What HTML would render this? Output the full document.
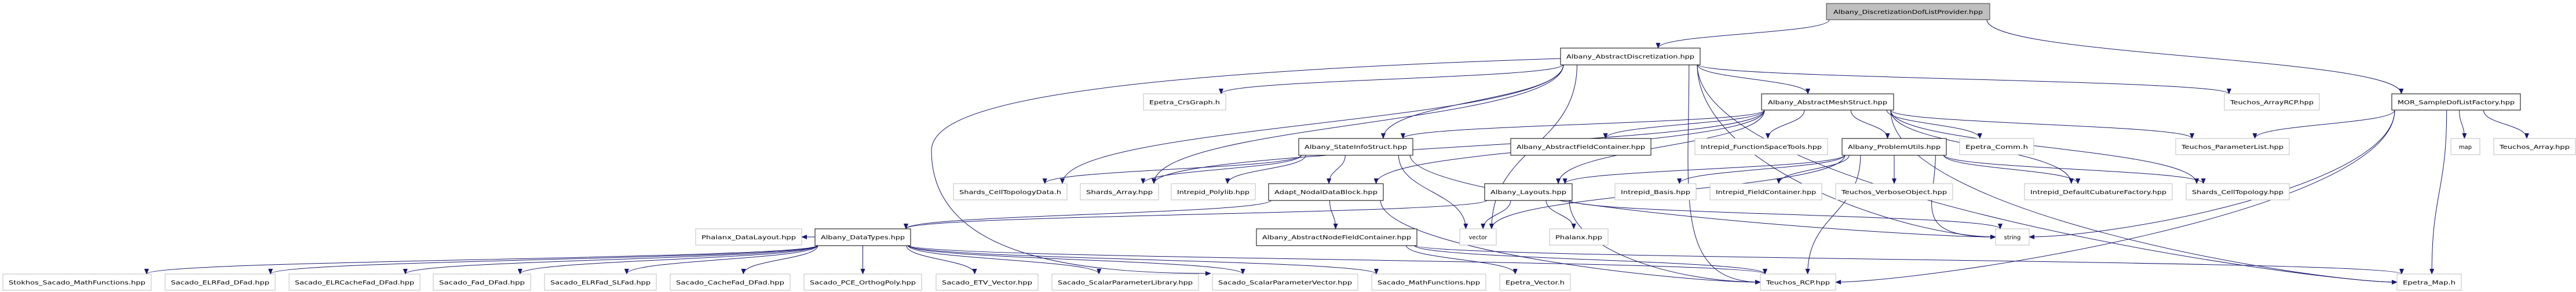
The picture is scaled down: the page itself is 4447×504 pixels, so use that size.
<!DOCTYPE html>
<html><head><meta charset="utf-8"><style>
html,body{margin:0;padding:0;background:#fff;}
svg{display:block;}
text{font-family:"DejaVu Sans","Liberation Sans",sans-serif;font-size:10px;fill:#000;}
</style></head><body>
<svg id="g" width="4447" height="504" xmlns="http://www.w3.org/2000/svg">
<defs><marker id="a" markerWidth="10" markerHeight="8" refX="9" refY="4" orient="auto" markerUnits="userSpaceOnUse"><path d="M0,0 L10,4 L0,8 z" fill="#191970"/></marker></defs>
<g id="edges" fill="none" stroke="#191970" stroke-width="1">
<path d="M2694,101 C1800,130 1608,190 1608,260 C1608,440 1850,472 2090,472" marker-end="url(#a)"/>
</g>
<g id="nodes">
<rect x="3153" y="6" width="282" height="28" fill="#bfbfbf" stroke="#404040"/><text x="3294" y="24" text-anchor="middle" textLength="258" lengthAdjust="spacingAndGlyphs">Albany_DiscretizationDofListProvider.hpp</text>
<rect x="2694" y="83" width="241" height="29" fill="#fff" stroke="#000"/><text x="2814.5" y="101" text-anchor="middle" textLength="221" lengthAdjust="spacingAndGlyphs">Albany_AbstractDiscretization.hpp</text>
<rect x="1974" y="162" width="142" height="28" fill="#fff" stroke="#bfbfbf"/><text x="2045" y="180" text-anchor="middle" textLength="122" lengthAdjust="spacingAndGlyphs">Epetra_CrsGraph.h</text>
<rect x="3041" y="162" width="228" height="28" fill="#fff" stroke="#000"/><text x="3155" y="180" text-anchor="middle" textLength="206" lengthAdjust="spacingAndGlyphs">Albany_AbstractMeshStruct.hpp</text>
<rect x="3840" y="162" width="164" height="28" fill="#fff" stroke="#bfbfbf"/><text x="3922" y="180" text-anchor="middle" textLength="144" lengthAdjust="spacingAndGlyphs">Teuchos_ArrayRCP.hpp</text>
<rect x="4129" y="162" width="222" height="28" fill="#fff" stroke="#000"/><text x="4240" y="180" text-anchor="middle" textLength="202" lengthAdjust="spacingAndGlyphs">MOR_SampleDofListFactory.hpp</text>
<rect x="2242" y="239" width="197" height="29" fill="#fff" stroke="#000"/><text x="2340.5" y="257" text-anchor="middle" textLength="177" lengthAdjust="spacingAndGlyphs">Albany_StateInfoStruct.hpp</text>
<rect x="2608" y="239" width="242" height="29" fill="#fff" stroke="#000"/><text x="2729" y="257" text-anchor="middle" textLength="222" lengthAdjust="spacingAndGlyphs">Albany_AbstractFieldContainer.hpp</text>
<rect x="2926" y="239" width="229" height="28" fill="#fff" stroke="#bfbfbf"/><text x="3040.5" y="257" text-anchor="middle" textLength="209" lengthAdjust="spacingAndGlyphs">Intrepid_FunctionSpaceTools.hpp</text>
<rect x="3180" y="239" width="180" height="29" fill="#fff" stroke="#000"/><text x="3270" y="257" text-anchor="middle" textLength="160" lengthAdjust="spacingAndGlyphs">Albany_ProblemUtils.hpp</text>
<rect x="3383" y="239" width="128" height="28" fill="#fff" stroke="#bfbfbf"/><text x="3447" y="257" text-anchor="middle" textLength="108" lengthAdjust="spacingAndGlyphs">Epetra_Comm.h</text>
<rect x="3756" y="239" width="196" height="28" fill="#fff" stroke="#bfbfbf"/><text x="3854" y="257" text-anchor="middle" textLength="176" lengthAdjust="spacingAndGlyphs">Teuchos_ParameterList.hpp</text>
<rect x="4231" y="239" width="50" height="28" fill="#fff" stroke="#bfbfbf"/><text x="4256" y="257" text-anchor="middle">map</text>
<rect x="4305" y="239" width="141" height="28" fill="#fff" stroke="#bfbfbf"/><text x="4375.5" y="257" text-anchor="middle" textLength="121" lengthAdjust="spacingAndGlyphs">Teuchos_Array.hpp</text>
<rect x="1646" y="317" width="196" height="28" fill="#fff" stroke="#bfbfbf"/><text x="1744" y="335" text-anchor="middle" textLength="176" lengthAdjust="spacingAndGlyphs">Shards_CellTopologyData.h</text>
<rect x="1865" y="317" width="135" height="28" fill="#fff" stroke="#bfbfbf"/><text x="1932.5" y="335" text-anchor="middle" textLength="115" lengthAdjust="spacingAndGlyphs">Shards_Array.hpp</text>
<rect x="2022" y="317" width="145" height="28" fill="#fff" stroke="#bfbfbf"/><text x="2094.5" y="335" text-anchor="middle" textLength="125" lengthAdjust="spacingAndGlyphs">Intrepid_Polylib.hpp</text>
<rect x="2190" y="317" width="198" height="29" fill="#fff" stroke="#000"/><text x="2289" y="335" text-anchor="middle" textLength="178" lengthAdjust="spacingAndGlyphs">Adapt_NodalDataBlock.hpp</text>
<rect x="2563" y="317" width="151" height="29" fill="#fff" stroke="#000"/><text x="2638.5" y="335" text-anchor="middle" textLength="131" lengthAdjust="spacingAndGlyphs">Albany_Layouts.hpp</text>
<rect x="2788" y="317" width="140" height="28" fill="#fff" stroke="#bfbfbf"/><text x="2858" y="335" text-anchor="middle" textLength="120" lengthAdjust="spacingAndGlyphs">Intrepid_Basis.hpp</text>
<rect x="2952" y="317" width="193" height="28" fill="#fff" stroke="#bfbfbf"/><text x="3048.5" y="335" text-anchor="middle" textLength="173" lengthAdjust="spacingAndGlyphs">Intrepid_FieldContainer.hpp</text>
<rect x="3169" y="317" width="202" height="28" fill="#fff" stroke="#bfbfbf"/><text x="3270" y="335" text-anchor="middle" textLength="182" lengthAdjust="spacingAndGlyphs">Teuchos_VerboseObject.hpp</text>
<rect x="3495" y="317" width="255" height="28" fill="#fff" stroke="#bfbfbf"/><text x="3622.5" y="335" text-anchor="middle" textLength="235" lengthAdjust="spacingAndGlyphs">Intrepid_DefaultCubatureFactory.hpp</text>
<rect x="3774" y="317" width="178" height="28" fill="#fff" stroke="#bfbfbf"/><text x="3863" y="335" text-anchor="middle" textLength="158" lengthAdjust="spacingAndGlyphs">Shards_CellTopology.hpp</text>
<rect x="1201" y="395" width="183" height="28" fill="#fff" stroke="#bfbfbf"/><text x="1292.5" y="413" text-anchor="middle" textLength="163" lengthAdjust="spacingAndGlyphs">Phalanx_DataLayout.hpp</text>
<rect x="1407" y="395" width="165" height="29" fill="#fff" stroke="#000"/><text x="1489.5" y="413" text-anchor="middle" textLength="145" lengthAdjust="spacingAndGlyphs">Albany_DataTypes.hpp</text>
<rect x="2169" y="395" width="277" height="29" fill="#fff" stroke="#000"/><text x="2307.5" y="413" text-anchor="middle" textLength="257" lengthAdjust="spacingAndGlyphs">Albany_AbstractNodeFieldContainer.hpp</text>
<rect x="2520" y="395" width="63" height="28" fill="#fff" stroke="#bfbfbf"/><text x="2551.5" y="413" text-anchor="middle">vector</text>
<rect x="2675" y="395" width="101" height="28" fill="#fff" stroke="#bfbfbf"/><text x="2725.5" y="413" text-anchor="middle" textLength="81" lengthAdjust="spacingAndGlyphs">Phalanx.hpp</text>
<rect x="3445" y="395" width="58" height="28" fill="#fff" stroke="#bfbfbf"/><text x="3474" y="413" text-anchor="middle">string</text>
<rect x="5" y="473" width="256" height="28" fill="#fff" stroke="#bfbfbf"/><text x="133" y="491" text-anchor="middle" textLength="236" lengthAdjust="spacingAndGlyphs">Stokhos_Sacado_MathFunctions.hpp</text>
<rect x="285" y="473" width="190" height="28" fill="#fff" stroke="#bfbfbf"/><text x="380" y="491" text-anchor="middle" textLength="170" lengthAdjust="spacingAndGlyphs">Sacado_ELRFad_DFad.hpp</text>
<rect x="499" y="473" width="226" height="28" fill="#fff" stroke="#bfbfbf"/><text x="612" y="491" text-anchor="middle" textLength="206" lengthAdjust="spacingAndGlyphs">Sacado_ELRCacheFad_DFad.hpp</text>
<rect x="748" y="473" width="168" height="28" fill="#fff" stroke="#bfbfbf"/><text x="832" y="491" text-anchor="middle" textLength="148" lengthAdjust="spacingAndGlyphs">Sacado_Fad_DFad.hpp</text>
<rect x="940" y="473" width="193" height="28" fill="#fff" stroke="#bfbfbf"/><text x="1036.5" y="491" text-anchor="middle" textLength="173" lengthAdjust="spacingAndGlyphs">Sacado_ELRFad_SLFad.hpp</text>
<rect x="1157" y="473" width="207" height="28" fill="#fff" stroke="#bfbfbf"/><text x="1260.5" y="491" text-anchor="middle" textLength="187" lengthAdjust="spacingAndGlyphs">Sacado_CacheFad_DFad.hpp</text>
<rect x="1388" y="473" width="203" height="28" fill="#fff" stroke="#bfbfbf"/><text x="1489.5" y="491" text-anchor="middle" textLength="183" lengthAdjust="spacingAndGlyphs">Sacado_PCE_OrthogPoly.hpp</text>
<rect x="1616" y="473" width="176" height="28" fill="#fff" stroke="#bfbfbf"/><text x="1704" y="491" text-anchor="middle" textLength="156" lengthAdjust="spacingAndGlyphs">Sacado_ETV_Vector.hpp</text>
<rect x="1816" y="473" width="253" height="28" fill="#fff" stroke="#bfbfbf"/><text x="1942.5" y="491" text-anchor="middle" textLength="233" lengthAdjust="spacingAndGlyphs">Sacado_ScalarParameterLibrary.hpp</text>
<rect x="2093" y="473" width="251" height="28" fill="#fff" stroke="#bfbfbf"/><text x="2218.5" y="491" text-anchor="middle" textLength="231" lengthAdjust="spacingAndGlyphs">Sacado_ScalarParameterVector.hpp</text>
<rect x="2368" y="473" width="197" height="28" fill="#fff" stroke="#bfbfbf"/><text x="2466.5" y="491" text-anchor="middle" textLength="177" lengthAdjust="spacingAndGlyphs">Sacado_MathFunctions.hpp</text>
<rect x="2589" y="473" width="122" height="28" fill="#fff" stroke="#bfbfbf"/><text x="2650" y="491" text-anchor="middle" textLength="102" lengthAdjust="spacingAndGlyphs">Epetra_Vector.h</text>
<rect x="3039" y="473" width="130" height="28" fill="#fff" stroke="#bfbfbf"/><text x="3104" y="491" text-anchor="middle" textLength="110" lengthAdjust="spacingAndGlyphs">Teuchos_RCP.hpp</text>
<rect x="4138" y="473" width="111" height="28" fill="#fff" stroke="#bfbfbf"/><text x="4193.5" y="491" text-anchor="middle" textLength="91" lengthAdjust="spacingAndGlyphs">Epetra_Map.h</text>
</g>
</svg>
<script>
var N={
top:[3153,3435,0],AD:[2694,2935,1],CRS:[1974,2116,2],MS:[3041,3269,2],ARCP:[3840,4004,2],MOR:[4129,4351,2],
SIS:[2242,2439,3],AFC:[2608,2850,3],FST:[2926,3155,3],PU:[3180,3360,3],COMM:[3383,3511,3],PL:[3756,3952,3],MAP:[4231,4281,3],TA:[4305,4446,3],
SCTD:[1646,1842,4],SA:[1865,2000,4],PLY:[2022,2167,4],NDB:[2190,2388,4],LAY:[2563,2714,4],BAS:[2788,2928,4],IFC:[2952,3145,4],VO:[3169,3371,4],CUB:[3495,3750,4],SCT:[3774,3952,4],
PDL:[1201,1384,5],DT:[1407,1572,5],ANFC:[2169,2446,5],VEC:[2520,2583,5],PHX:[2675,2776,5],STR:[3445,3503,5],
S1:[5,261,6],S2:[285,475,6],S3:[499,725,6],S4:[748,916,6],S5:[940,1133,6],S6:[1157,1364,6],S7:[1388,1591,6],S8:[1616,1792,6],S9:[1816,2069,6],S10:[2093,2344,6],S11:[2368,2565,6],EV:[2589,2711,6],RCP:[3039,3169,6],EMAP:[4138,4249,6]};
var RY=[6,83,162,239,317,395,473],H=28;
var E=[["top","AD"],["top","MOR"],
["AD","CRS"],["AD","SCTD"],["AD","SA"],["AD","SIS"],["AD","MS"],["AD","VEC"],["AD","ARCP"],["AD","STR"],["AD","EMAP"],["AD","RCP"],
["MS","SIS"],["MS","AFC"],["MS","FST"],["MS","PU"],["MS","COMM"],["MS","PL"],["MS","CUB"],["MS","SCT"],["MS","EMAP"],["MS","NDB"],["MS","LAY"],["MS","SA"],
["SIS","SCTD"],["SIS","SA"],["SIS","PLY"],["SIS","NDB"],["SIS","VEC"],["SIS","STR"],
["PU","LAY"],["PU","VEC"],["PU","BAS"],["PU","IFC"],["PU","VO"],["PU","CUB"],["PU","SCT"],["PU","STR"],["PU","RCP"],
["MOR","PL"],["MOR","MAP"],["MOR","TA"],["MOR","STR"],["MOR","RCP"],["MOR","EMAP"],
["NDB","DT"],["NDB","ANFC"],["NDB","RCP"],
["LAY","DT"],["LAY","VEC"],["LAY","PHX"],["LAY","RCP"],["LAY","STR"],
["DT","PDL"],["DT","S1"],["DT","S2"],["DT","S3"],["DT","S4"],["DT","S5"],["DT","S6"],["DT","S7"],["DT","S8"],["DT","S9"],["DT","S10"],["DT","S11"],["DT","RCP"],
["ANFC","EV"],["ANFC","RCP"],["ANFC","EMAP"]];
var g=document.getElementById("edges"),s="";
E.forEach(function(e){
 var a=N[e[0]],b=N[e[1]];
 var acx=(a[0]+a[1])/2,bcx=(b[0]+b[1])/2;
 var ay=RY[a[2]]+H,by=RY[b[2]];
 var d;
 if(a[2]==b[2]){
  var y=RY[a[2]]+H/2;
  if(bcx<acx)d="M"+a[0]+","+y+" L"+b[1]+","+y;else d="M"+a[1]+","+y+" L"+b[0]+","+y;
 } else {
  var sx=acx+(bcx-acx)*0.35; sx=Math.max(a[0]+5,Math.min(a[1]-5,sx));
  if((b===N.STR||b===N.RCP||b===N.EMAP) && Math.abs(bcx-acx)>200 && b[2]-a[2]>1){
   var ty=by+H/2, dir=(bcx>acx)?1:-1, tx=(dir>0)?b[0]:b[1];
   d="M"+sx+","+ay+" C"+sx+","+(ay+(ty-ay)*0.6)+" "+(tx-dir*150)+","+ty+" "+tx+","+ty;
  } else {
   var tx=bcx+(acx-bcx)*0.1; tx=Math.max(b[0]+8,Math.min(b[1]-8,tx));
   var my=(ay+by)/2;
   d="M"+sx+","+ay+" C"+sx+","+my+" "+tx+","+my+" "+tx+","+by;
  }
 }
 s+='<path d="'+d+'" marker-end="url(#a)"/>';
});
g.innerHTML+=s;
</script>
</body></html>
